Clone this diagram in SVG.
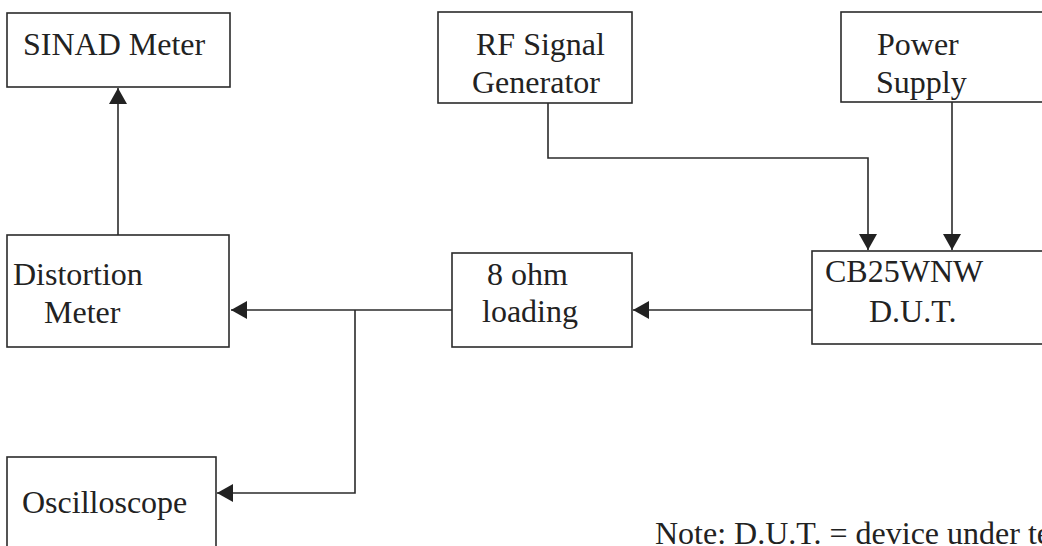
<svg xmlns="http://www.w3.org/2000/svg" width="1042" height="546" viewBox="0 0 1042 546">
<defs>
<style>
.box{fill:#fff;stroke:#2b2b2b;stroke-width:1.6}
.lbl{font-family:"Liberation Serif","Times New Roman",serif;font-size:32px;fill:#222}
.con{fill:none;stroke:#2b2b2b;stroke-width:1.6}
</style>
<marker id="arr" markerUnits="userSpaceOnUse" markerWidth="18" markerHeight="18" viewBox="0 0 16 18" refX="16" refY="9" orient="auto">
<path d="M0,0 L16,9 L0,18 Z" fill="#222"/>
</marker>
</defs>
<rect width="1042" height="546" fill="#fff"/>
<g id="connectors">
<path class="con" d="M118,235 V88" marker-end="url(#arr)"/>
<path class="con" d="M548,103 V158 H868 V250" marker-end="url(#arr)"/>
<path class="con" d="M952,102 V250" marker-end="url(#arr)"/>
<path class="con" d="M812,310 H633" marker-end="url(#arr)"/>
<path class="con" d="M452,310 H231" marker-end="url(#arr)"/>
<path class="con" d="M355,310 V493 H217" marker-end="url(#arr)"/>
</g>
<g id="sinad">
<rect class="box" x="7" y="13" width="223" height="74"/>
<text class="lbl" x="23" y="55">SINAD Meter</text>
</g>
<g id="rfgen">
<rect class="box" x="438" y="12" width="194" height="91"/>
<text class="lbl" x="476" y="55">RF Signal</text>
<text class="lbl" x="472" y="93">Generator</text>
</g>
<g id="power">
<rect class="box" x="841" y="12" width="220" height="90"/>
<text class="lbl" x="877" y="55">Power</text>
<text class="lbl" x="876" y="93">Supply</text>
</g>
<g id="distortion">
<rect class="box" x="7" y="235" width="222" height="112"/>
<text class="lbl" x="13" y="285">Distortion</text>
<text class="lbl" x="44" y="323">Meter</text>
</g>
<g id="loading">
<rect class="box" x="452" y="253" width="180" height="94"/>
<text class="lbl" x="487" y="285">8 ohm</text>
<text class="lbl" x="482" y="322">loading</text>
</g>
<g id="dut">
<rect class="box" x="812" y="251" width="250" height="93"/>
<text class="lbl" x="825" y="282">CB25WNW</text>
<text class="lbl" x="869" y="322">D.U.T.</text>
</g>
<g id="oscilloscope">
<rect class="box" x="7" y="457" width="209" height="110"/>
<text class="lbl" x="22" y="513">Oscilloscope</text>
</g>
<g id="note">
<text class="lbl" x="655" y="544">Note: D.U.T. = device under test</text>
</g>
</svg>
